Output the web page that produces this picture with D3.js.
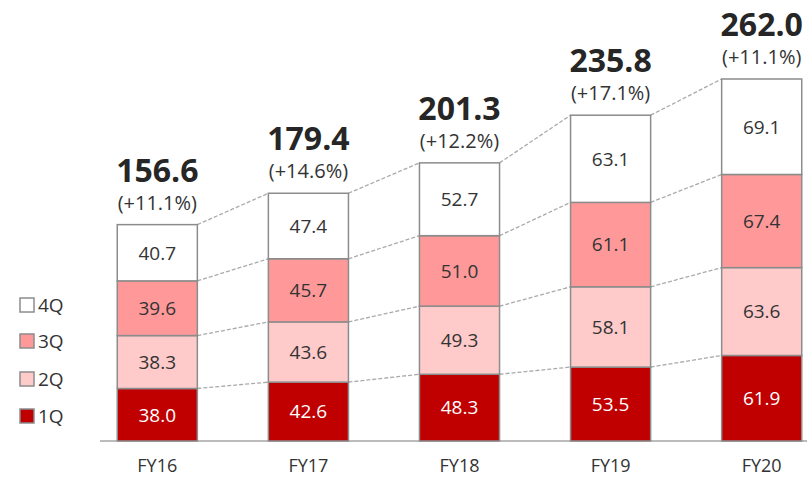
<!DOCTYPE html>
<html>
<head>
<meta charset="utf-8">
<script src="https://cdn.jsdelivr.net/npm/d3@7"></script>
<style>
  body { margin: 0; background: #fff; }
  text { font-family: "Open Sans", "Noto Sans", sans-serif; }
</style>
</head>
<body>
<div id="chart"></div>
<script>
// data
var years = ["FY16", "FY17", "FY18", "FY19", "FY20"];
var quarters = ["1Q", "2Q", "3Q", "4Q"];
var q1 = [38.0, 42.6, 48.3, 53.5, 61.9];
var q2 = [38.3, 43.6, 49.3, 58.1, 63.6];
var q3 = [39.6, 45.7, 51.0, 61.1, 67.4];
var q4 = [40.7, 47.4, 52.7, 63.1, 69.1];
var totals = ["156.6", "179.4", "201.3", "235.8", "262.0"];
var growth = ["(+11.1%)", "(+14.6%)", "(+12.2%)", "(+17.1%)", "(+11.1%)"];

var colors = {"1Q": "#c00000", "2Q": "#ffcaca", "3Q": "#ff9999", "4Q": "#ffffff"};
var textColors = {"1Q": "#ffffff", "2Q": "#333333", "3Q": "#333333", "4Q": "#333333"};

var width = 807, height = 478;

var svg = d3.select("#chart").append("svg")
    .attr("width", width)
    .attr("height", height);

var x = d3.scaleBand()
    .domain(years)
    .range([81, 838])
    .paddingInner(0.47)
    .paddingOuter(0.24);

var y = d3.scaleLinear()
    .domain([0, 262])
    .range([441, 79]);

// build rows for the stack
var rows = years.map(function(d, i) {
    return {year: d, "1Q": q1[i], "2Q": q2[i], "3Q": q3[i], "4Q": q4[i]};
});
var series = d3.stack().keys(quarters)(rows);

// dashed connector lines between segment tops
var conn = svg.append("g");
series.forEach(function(s) {
    for (var i = 0; i < s.length - 1; i++) {
        conn.append("line")
            .attr("x1", x(years[i]) + x.bandwidth())
            .attr("y1", y(s[i][1]))
            .attr("x2", x(years[i + 1]))
            .attr("y2", y(s[i + 1][1]))
            .attr("stroke", "#aaa")
            .attr("stroke-width", 1.3)
            .attr("stroke-dasharray", "4,2");
    }
});

// axis line
svg.append("line")
    .attr("x1", 100).attr("x2", 807)
    .attr("y1", y(0)).attr("y2", y(0))
    .attr("stroke", "#a6a6a6")
    .attr("stroke-width", 1.5);

var groups = svg.selectAll(".layer")
    .data(series).enter()
    .append("g")
    .attr("class", "layer");

groups.selectAll("rect")
    .data(function(s) { return s.map(function(d) { d.key = s.key; return d; }); })
    .enter().append("rect")
    .attr("x", function(d) { return x(d.data.year); })
    .attr("y", function(d) { return y(d[1]); })
    .attr("width", x.bandwidth())
    .attr("height", function(d) { return y(d[0]) - y(d[1]); })
    .attr("fill", function(d) { return colors[d.key]; })
    .attr("stroke", "#8c8c8c")
    .attr("stroke-width", 1.5);

groups.selectAll("text")
    .data(function(s) { return s; })
    .enter().append("text")
    .attr("x", function(d) { return x(d.data.year) + x.bandwidth() / 2; })
    .attr("y", function(d) { return (y(d[0]) + y(d[1])) / 2; })
    .attr("dy", "0.36em")
    .attr("text-anchor", "middle")
    .attr("font-size", 19)
    .attr("fill", function(d) { return textColors[d.key]; })
    .text(function(d) { return (d[1] - d[0]).toFixed(1); });

// totals and growth
var tops = series[series.length - 1];
svg.selectAll(".total")
    .data(years).enter()
    .append("text")
    .attr("class", "total")
    .attr("x", function(d) { return x(d) + x.bandwidth() / 2; })
    .attr("y", function(d, i) { return y(tops[i][1]) - 43; })
    .attr("text-anchor", "middle")
    .attr("font-size", 32)
    .attr("font-weight", "bold")
    .attr("fill", "#262626")
    .text(function(d, i) { return totals[i]; });

svg.selectAll(".growth")
    .data(years).enter()
    .append("text")
    .attr("class", "growth")
    .attr("x", function(d) { return x(d) + x.bandwidth() / 2; })
    .attr("y", function(d, i) { return y(tops[i][1]) - 15; })
    .attr("text-anchor", "middle")
    .attr("font-size", 20)
    .attr("fill", "#333")
    .text(function(d, i) { return growth[i]; });

// x labels
svg.selectAll(".xlab")
    .data(years).enter()
    .append("text")
    .attr("class", "xlab")
    .attr("x", function(d) { return x(d) + x.bandwidth() / 2; })
    .attr("y", 472)
    .attr("text-anchor", "middle")
    .attr("font-size", 18)
    .attr("fill", "#333")
    .text(function(d) { return d; });

// legend
var legend = svg.append("g");
var legendY = {"4Q": 305, "3Q": 341, "2Q": 379, "1Q": 416};
quarters.forEach(function(k) {
    legend.append("rect")
        .attr("x", 20).attr("y", legendY[k] - 7)
        .attr("width", 14).attr("height", 14)
        .attr("fill", colors[k])
        .attr("stroke", "#8c8c8c")
        .attr("stroke-width", 1.5);
    legend.append("text")
        .attr("x", 38).attr("y", legendY[k])
        .attr("dy", "0.36em")
        .attr("font-size", 19)
        .attr("fill", "#333")
        .text(k);
});
</script>
</body>
</html>
